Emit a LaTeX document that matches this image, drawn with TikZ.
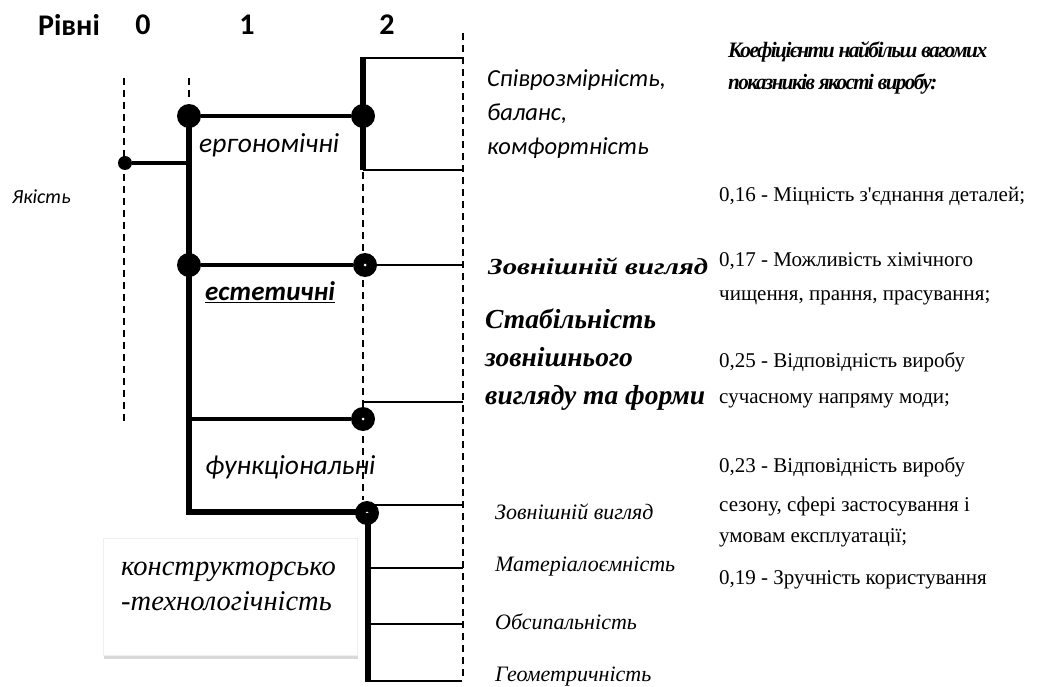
\documentclass[tikz,border=0pt]{standalone}
\usepackage{fontspec}
\setmainfont{Liberation Serif}
\setsansfont{Carlito}
\usetikzlibrary{shadows}
\newcommand{\straightap}{{\addfontfeature{Ligatures=TeXOff}'}}
\begin{document}
\begin{tikzpicture}[x=1pt,y=-1pt,
  dashln/.style={line width=1.4pt, dash pattern=on 7pt off 5pt},
  thickln/.style={line width=6pt},
  medln/.style={line width=4pt},
  thinln/.style={line width=2pt},
  bigdot/.style={circle, fill=black, inner sep=0pt, minimum size=24pt},
  smalldot/.style={circle, fill=black, inner sep=0pt, minimum size=14pt},
  hole/.style={circle, fill=white, inner sep=0pt, minimum size=3pt},
  lvl/.style={font=\sffamily\bfseries\fontsize{30}{34}\selectfont, inner sep=0pt},
  sfit/.style={font=\sffamily\itshape\fontsize{27.5}{32}\selectfont, inner sep=0pt, anchor=west},
  rmtxt/.style={font=\rmfamily\fontsize{21}{24}\selectfont, inner sep=0pt, anchor=west},
  rmit/.style={font=\rmfamily\itshape\fontsize{22}{26}\selectfont, inner sep=0pt, anchor=west},
  hdtxt/.style={font=\rmfamily\bfseries\itshape\fontsize{22}{24}\selectfont\addfontfeature{LetterSpace=-7}, inner sep=0pt, anchor=base west}
]
\useasboundingbox (0,0) rectangle (1038,687);

% level labels
\node[lvl] (lr) at (69,25) {Рівні};
\node[lvl] (l0) at (143,25) {0};
\node[lvl] (l1) at (247,25) {1};
\node[lvl] (l2) at (387,25) {2};

% guide coordinates
\coordinate (g0t) at (124,78);  \coordinate (g0b) at (124,422);
\coordinate (g1t) at (189,78);  \coordinate (g1b) at (189,102);
\coordinate (g2t) at (363,172); \coordinate (g2b) at (363,500);
\coordinate (g3t) at (463,33);  \coordinate (g3b) at (463,677);
\draw[dashln] (g0t) -- (g0b);
\draw[dashln] (g1t) -- (g1b);
\draw[dashln] (g2t) -- (g2b);
\draw[dashln] (g3t) -- (g3b);

% main vertical spine level 1
\coordinate (s1t) at (189,116);
\coordinate (s1b) at (189,512);
\coordinate (s1r) at (367,512);
\draw[thickln, line join=miter] (s1t) -- (s1b) -- (s1r);

% level 0
\node[smalldot] (d0) at (125,163) {};
\coordinate (d0r) at (189,163);
\draw[medln] (d0) -- (d0r);

% ergonomic
\node[bigdot] (d1) at (189,116) {};
\node[bigdot] (d2) at (363,116) {};
\draw[medln] (d1) -- (d2);
\coordinate (e2t) at (363,57); \coordinate (e2b) at (363,170);
\draw[thickln] (e2t) -- (e2b);
\coordinate (e3t) at (463,58); \coordinate (e3b) at (463,170);
\coordinate (e2tt) at (363,58); \coordinate (e2bb) at (363,170);
\draw[thinln] (e2tt) -- (e3t);
\draw[thinln] (e2bb) -- (e3b);

% aesthetic
\node[bigdot] (d3) at (189,265) {};
\node[bigdot] (d4) at (365,265) {};
\node[hole] at (d4) {};
\draw[medln] (d3) -- (d4);
\coordinate (a1) at (463,265);
\draw[thinln] (d4) -- (a1);
\coordinate (a2l) at (363,402); \coordinate (a2r) at (463,402);
\draw[thinln] (a2l) -- (a2r);

% functional
\coordinate (f0) at (189,419);
\node[bigdot] (d5) at (363,419) {};
\node[hole] at (d5) {};
\draw[medln] (f0) -- (d5);

% constructive-technological
\node[bigdot] (d6) at (367,513) {};
\node[hole] at (d6) {};
\coordinate (c0) at (368,513); \coordinate (c1) at (368,682);
\draw[thickln] (c0) -- (c1);
\coordinate (k1l) at (370,505); \coordinate (k1r) at (463,505);
\coordinate (k2l) at (368,568); \coordinate (k2r) at (463,568);
\coordinate (k3l) at (368,624); \coordinate (k3r) at (463,624);
\coordinate (k4l) at (368,681); \coordinate (k4r) at (462,681);
\draw[thinln] (k1l) -- (k1r);
\draw[thinln] (k2l) -- (k2r);
\draw[thinln] (k3l) -- (k3r);
\draw[thinln] (k4l) -- (k4r);

% left labels
\node[font=\sffamily\itshape\fontsize{20}{24}\selectfont, inner sep=0pt, anchor=west] (q) at (12,197) {Якість};
\node[sfit] (erg) at (199,145) {ергономічні};
\node[sfit, font=\sffamily\bfseries\itshape\fontsize{27}{32}\selectfont] (est) at (205,292) {\underline{естетичні}};
\node[sfit] (fun) at (205,467) {функціональні};

\node[draw=black!6, fill=white, minimum width=254pt, minimum height=117pt, anchor=north west,
  drop shadow={opacity=0.3, shadow xshift=1pt, shadow yshift=-4pt}] (box) at (103,538) {};
\node[font=\rmfamily\itshape\fontsize{28.5}{35}\selectfont, inner sep=0pt, anchor=base west] (boxt1) at (121,575) {конструкторсько};
\node[font=\rmfamily\itshape\fontsize{28.5}{35}\selectfont, inner sep=0pt, anchor=base west] (boxt2) at (121,610) {-технологічність};

% level-2 labels
\node[inner sep=0pt, anchor=west, align=left, font=\sffamily\itshape\fontsize{24.5}{34}\selectfont] (erg2) at (487,114) {Співрозмірність,\\баланс,\\комфортність};
\node[inner sep=0pt, anchor=west] (est1) at (488,266) {\resizebox{220pt}{\height}{\rmfamily\bfseries\itshape\fontsize{23}{26}\selectfont Зовнішній вигляд}};
\node[inner sep=0pt, anchor=west, align=left, font=\rmfamily\bfseries\itshape\fontsize{27.5}{38}\selectfont] (est2) at (485,360) {Стабільність\\зовнішнього\\вигляду та форми};
\node[rmit] (k1) at (495,512) {Зовнішній вигляд};
\node[rmit] (k2) at (495,567) {Матеріалоємність};
\node[rmit] (k3) at (495,622) {Обсипальність};
\node[rmit] (k4) at (495,677) {Геометричність};

% coefficients
\node[hdtxt] (hd1) at (728,58) {\resizebox{259pt}{\height}{Коефіцієнти найбільш вагомих}};
\node[hdtxt] (hd2) at (728,90) {\resizebox{209pt}{\height}{показників якості виробу:}};
\node[rmtxt] (c16) at (719,196) {0,16 - Міцність з\straightap єднання деталей;};
\node[rmtxt] (c17a) at (719,261) {0,17 - Можливість хімічного};
\node[rmtxt] (c17b) at (719,298) {чищення, прання, прасування;};
\node[rmtxt] (c25a) at (719,362) {0,25 - Відповідність виробу};
\node[rmtxt] (c25b) at (719,401) {сучасному напряму моди;};
\node[rmtxt] (c23a) at (719,467) {0,23 - Відповідність виробу};
\node[rmtxt] (c23b) at (719,506) {сезону, сфері застосування і};
\node[rmtxt] (c23c) at (719,538) {умовам експлуатації;};
\node[rmtxt] (c19) at (719,580) {0,19 - Зручність користування};
\end{tikzpicture}
\end{document}
